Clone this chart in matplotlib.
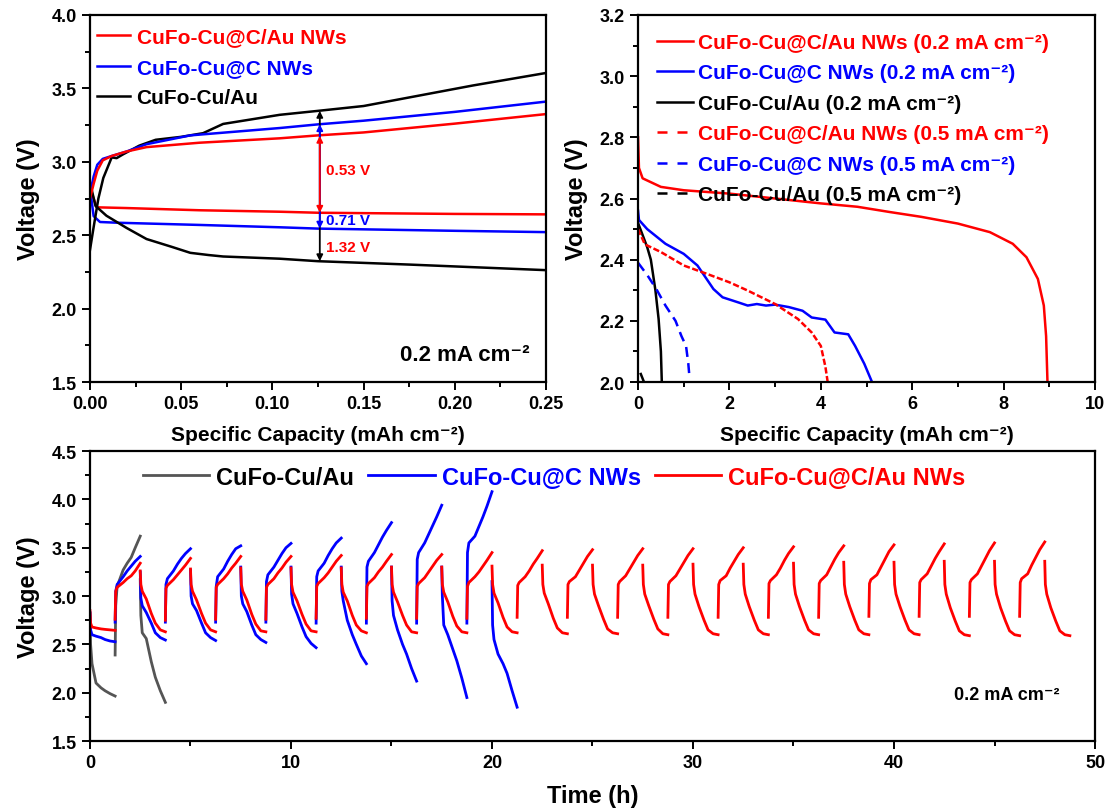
import matplotlib
matplotlib.use("Agg")
import matplotlib.pyplot as plt
from matplotlib.ticker import MultipleLocator, FormatStrFormatter
import numpy as np

plt.rcParams['font.family'] = ['Liberation Sans', 'DejaVu Sans']
plt.rcParams['font.weight'] = 'bold'
plt.rcParams['axes.labelweight'] = 'bold'

RED = '#ff0000'
BLUE = '#0000ff'
GREY = '#555555'
UNIT = 'mA cm\u207b\u00b2'

# ---------------- top left: first charge/discharge, 0.2 mA cm-2 ----------------
tl_red_chg_x = [0, 0.002, 0.004, 0.007, 0.012, 0.02, 0.031, 0.06, 0.104, 0.125, 0.15, 0.2, 0.25]
tl_red_chg_v = [2.75, 2.85, 2.94, 3.01, 3.04, 3.07, 3.10, 3.13, 3.16, 3.18, 3.20, 3.26, 3.325]
tl_blue_chg_x = [0, 0.002, 0.004, 0.007, 0.012, 0.02, 0.031, 0.055, 0.104, 0.125, 0.15, 0.2, 0.25]
tl_blue_chg_v = [2.78, 2.90, 2.98, 3.02, 3.04, 3.07, 3.12, 3.18, 3.23, 3.255, 3.28, 3.34, 3.41]
tl_blk_chg_x = [0, 0.0018, 0.0046, 0.0073, 0.0119, 0.0146, 0.018, 0.027, 0.036, 0.05, 0.062,
                0.073, 0.104, 0.125, 0.15, 0.18, 0.21, 0.25]
tl_blk_chg_v = [2.40, 2.54, 2.75, 2.89, 3.03, 3.025, 3.05, 3.11, 3.15, 3.17, 3.195,
                3.258, 3.32, 3.347, 3.38, 3.45, 3.52, 3.605]
tl_red_dis_x = [0, 0.002, 0.0037, 0.02, 0.06, 0.104, 0.125, 0.2, 0.25]
tl_red_dis_v = [2.82, 2.75, 2.69, 2.685, 2.67, 2.66, 2.653, 2.645, 2.642]
tl_blue_dis_x = [0, 0.002, 0.0055, 0.015, 0.06, 0.104, 0.125, 0.2, 0.25]
tl_blue_dis_v = [2.82, 2.63, 2.59, 2.585, 2.57, 2.554, 2.545, 2.53, 2.521]
tl_blk_dis_x = [0, 0.003, 0.009, 0.02, 0.031, 0.045, 0.055, 0.065, 0.073, 0.104, 0.125, 0.175, 0.25]
tl_blk_dis_v = [2.86, 2.70, 2.633, 2.55, 2.474, 2.42, 2.38, 2.365, 2.355, 2.34, 2.323, 2.30, 2.262]

tl_labels = ['CuFo-Cu@C/Au NWs', 'CuFo-Cu@C NWs', 'CuFo-Cu/Au']
gap_x = 0.126
gap_tops = [3.347, 3.256, 3.177]      # black, blue, red
gap_bots = [2.323, 2.545, 2.653]
gap_texts = ['0.53 V', '0.71 V', '1.32 V']
gap_text_y = [2.944, 2.605, 2.42]
gap_text_c = [RED, BLUE, RED]

# ---------------- top right: full discharge ----------------
tr_red02_x = [0, 0.02, 0.1, 0.5, 1.0, 2.0, 3.0, 4.0, 4.8, 5.5, 6.2, 7.0, 7.7, 8.2, 8.5, 8.75,
              8.88, 8.93, 8.96]
tr_red02_v = [2.80, 2.70, 2.666, 2.638, 2.627, 2.616, 2.60, 2.584, 2.573, 2.556, 2.54, 2.518,
              2.49, 2.452, 2.408, 2.337, 2.25, 2.15, 2.0]
tr_blue02_x = [0, 0.02, 0.2, 0.6, 1.0, 1.3, 1.45, 1.65, 1.85, 2.2, 2.4, 2.6, 2.8, 3.0, 3.3,
               3.6, 3.8, 4.1, 4.3, 4.6, 4.75, 4.95, 5.12]
tr_blue02_v = [2.56, 2.53, 2.50, 2.452, 2.419, 2.381, 2.348, 2.304, 2.277, 2.26, 2.25, 2.255,
               2.25, 2.253, 2.245, 2.233, 2.211, 2.204, 2.162, 2.156, 2.118, 2.06, 2.0]
tr_blk02_x = [0, 0.2, 0.28, 0.38, 0.45, 0.5, 0.52]
tr_blk02_v = [2.52, 2.441, 2.40, 2.30, 2.206, 2.10, 2.0]
tr_red05_x = [0, 0.15, 0.5, 1.0, 1.5, 2.0, 2.4, 3.0, 3.5, 3.8, 4.0, 4.1, 4.15]
tr_red05_v = [2.50, 2.45, 2.425, 2.381, 2.354, 2.326, 2.299, 2.255, 2.206, 2.162, 2.118, 2.05, 2.0]
tr_blue05_x = [0, 0.2, 0.4, 0.6, 0.82, 0.95, 1.05, 1.1, 1.12]
tr_blue05_v = [2.39, 2.35, 2.304, 2.25, 2.20, 2.15, 2.118, 2.06, 2.025]
tr_blk05_x = [0.05, 0.09, 0.13]
tr_blk05_v = [2.03, 2.015, 2.0]

tr_labels = ['CuFo-Cu@C/Au NWs (0.2 ' + UNIT + ')', 'CuFo-Cu@C NWs (0.2 ' + UNIT + ')',
             'CuFo-Cu/Au (0.2 ' + UNIT + ')', 'CuFo-Cu@C/Au NWs (0.5 ' + UNIT + ')',
             'CuFo-Cu@C NWs (0.5 ' + UNIT + ')', 'CuFo-Cu/Au (0.5 ' + UNIT + ')']

# ---------------- bottom: cycling ----------------
dis_dt = [0, 0.03, 0.1, 0.3, 0.55, 0.75, 1.0, 1.25]
chg_dt = [0, 0.03, 0.1, 0.4, 0.6, 0.8, 1.0, 1.25]

red_dis_t0 = [0, 2.5, 5, 7.5, 10, 12.5, 15, 17.5, 20, 22.5, 25, 27.5, 30, 32.5, 35, 37.5,
              40, 42.5, 45, 47.5]
red_dis_v = [
    [2.85, 2.72, 2.68, 2.67, 2.66, 2.655, 2.65, 2.645],
    [3.26, 3.12, 3.05, 2.97, 2.82, 2.72, 2.65, 2.63],
    [3.28, 3.12, 3.05, 2.96, 2.82, 2.72, 2.65, 2.63],
    [3.29, 3.12, 3.05, 2.96, 2.81, 2.71, 2.64, 2.63],
    [3.29, 3.12, 3.04, 2.95, 2.81, 2.71, 2.64, 2.63],
    [3.29, 3.12, 3.04, 2.95, 2.80, 2.70, 2.64, 2.62],
    [3.30, 3.12, 3.04, 2.94, 2.80, 2.70, 2.63, 2.62],
    [3.30, 3.12, 3.04, 2.94, 2.79, 2.69, 2.63, 2.62],
    [3.31, 3.12, 3.03, 2.93, 2.78, 2.68, 2.63, 2.62],
    [3.32, 3.12, 3.03, 2.92, 2.77, 2.67, 2.62, 2.61],
    [3.32, 3.12, 3.02, 2.90, 2.76, 2.66, 2.62, 2.61],
    [3.32, 3.12, 3.02, 2.90, 2.76, 2.66, 2.61, 2.60],
    [3.33, 3.12, 3.02, 2.89, 2.75, 2.65, 2.61, 2.60],
    [3.33, 3.12, 3.02, 2.89, 2.75, 2.65, 2.61, 2.60],
    [3.34, 3.12, 3.02, 2.89, 2.75, 2.65, 2.61, 2.60],
    [3.35, 3.12, 3.02, 2.89, 2.75, 2.65, 2.61, 2.60],
    [3.35, 3.12, 3.02, 2.89, 2.75, 2.65, 2.61, 2.60],
    [3.36, 3.12, 3.02, 2.88, 2.74, 2.64, 2.60, 2.59],
    [3.36, 3.12, 3.02, 2.88, 2.74, 2.64, 2.60, 2.59],
    [3.36, 3.12, 3.02, 2.88, 2.74, 2.64, 2.60, 2.59],
]
red_chg_t0 = [1.25, 3.75, 6.25, 8.75, 11.25, 13.75, 16.25, 18.75, 21.25, 23.75, 26.25, 28.75,
              31.25, 33.75, 36.25, 38.75, 41.25, 43.75, 46.25]
red_chg_v = [
    [2.76, 3.05, 3.09, 3.14, 3.18, 3.21, 3.26, 3.34],
    [2.75, 3.08, 3.11, 3.17, 3.22, 3.27, 3.32, 3.39],
    [2.76, 3.09, 3.12, 3.18, 3.23, 3.29, 3.34, 3.41],
    [2.76, 3.09, 3.12, 3.18, 3.24, 3.29, 3.35, 3.41],
    [2.77, 3.10, 3.13, 3.19, 3.24, 3.30, 3.36, 3.42],
    [2.77, 3.10, 3.13, 3.19, 3.25, 3.30, 3.36, 3.43],
    [2.77, 3.10, 3.13, 3.19, 3.25, 3.31, 3.37, 3.43],
    [2.77, 3.10, 3.14, 3.20, 3.25, 3.31, 3.37, 3.45],
    [2.78, 3.11, 3.14, 3.20, 3.26, 3.33, 3.39, 3.47],
    [2.78, 3.12, 3.15, 3.20, 3.27, 3.34, 3.41, 3.48],
    [2.78, 3.12, 3.15, 3.21, 3.28, 3.35, 3.42, 3.49],
    [2.78, 3.12, 3.15, 3.21, 3.28, 3.35, 3.42, 3.49],
    [2.78, 3.12, 3.16, 3.21, 3.29, 3.36, 3.43, 3.50],
    [2.78, 3.13, 3.16, 3.22, 3.29, 3.37, 3.44, 3.51],
    [2.78, 3.13, 3.16, 3.22, 3.30, 3.38, 3.45, 3.52],
    [2.79, 3.13, 3.17, 3.22, 3.30, 3.38, 3.46, 3.53],
    [2.79, 3.14, 3.17, 3.23, 3.31, 3.39, 3.46, 3.54],
    [2.79, 3.14, 3.17, 3.23, 3.31, 3.39, 3.47, 3.55],
    [2.79, 3.14, 3.18, 3.23, 3.32, 3.40, 3.48, 3.56],
]

blue_dis_t0 = [0, 2.5, 5, 7.5, 10, 12.5, 15, 17.5, 20]
blue_dis_v = [
    [2.83, 2.65, 2.60, 2.585, 2.57, 2.55, 2.535, 2.527],
    [3.25, 2.98, 2.90, 2.83, 2.72, 2.62, 2.57, 2.545],
    [3.27, 3.00, 2.92, 2.85, 2.72, 2.62, 2.57, 2.54],
    [3.30, 3.00, 2.92, 2.84, 2.70, 2.60, 2.55, 2.52],
    [3.30, 3.02, 2.92, 2.82, 2.68, 2.58, 2.51, 2.466],
    [3.30, 3.05, 2.95, 2.75, 2.60, 2.50, 2.38, 2.30],
    [3.30, 2.95, 2.80, 2.65, 2.50, 2.40, 2.25, 2.12],
    [3.30, 3.00, 2.70, 2.60, 2.45, 2.33, 2.15, 1.95],
    [3.15, 2.70, 2.55, 2.40, 2.30, 2.20, 2.02, 1.85],
]
blue_chg_t0 = [1.25, 3.75, 6.25, 8.75, 11.25, 13.75, 16.25, 18.75]
blue_chg_v = [
    [2.73, 3.05, 3.12, 3.20, 3.26, 3.31, 3.36, 3.41],
    [2.73, 3.12, 3.18, 3.26, 3.33, 3.39, 3.44, 3.49],
    [2.73, 3.10, 3.20, 3.28, 3.36, 3.43, 3.49, 3.52],
    [2.73, 3.15, 3.22, 3.30, 3.37, 3.44, 3.50, 3.545],
    [2.72, 3.20, 3.26, 3.34, 3.42, 3.49, 3.55, 3.60],
    [2.72, 3.30, 3.36, 3.45, 3.53, 3.61, 3.68, 3.76],
    [2.72, 3.38, 3.45, 3.55, 3.64, 3.73, 3.82, 3.94],
    [2.72, 3.45, 3.55, 3.62, 3.72, 3.82, 3.93, 4.08],
]

grey_dis_t0 = [0, 2.5]
grey_dis_v = [
    [2.82, 2.50, 2.30, 2.10, 2.05, 2.02, 1.99, 1.965],
    [3.17, 2.80, 2.62, 2.56, 2.32, 2.16, 2.02, 1.90],
]
grey_chg_t0 = [1.25]
grey_chg_v = [
    [2.39, 2.90, 3.10, 3.27, 3.34, 3.40, 3.50, 3.62],
]

bottom_labels = ['CuFo-Cu/Au', 'CuFo-Cu@C NWs', 'CuFo-Cu@C/Au NWs']


def segments(t0_dis, v_dis, t0_chg, v_chg):
    # join discharge and charge pieces in time order, NaN between them
    pieces = [(t0, dis_dt, v) for t0, v in zip(t0_dis, v_dis)]
    pieces += [(t0, chg_dt, v) for t0, v in zip(t0_chg, v_chg)]
    pieces.sort(key=lambda p: p[0])
    xs, ys = [], []
    for t0, dt, v in pieces:
        xs += [t0 + d for d in dt] + [np.nan]
        ys += list(v) + [np.nan]
    return xs, ys


def style(ax, xmaj, xmin, ymaj, ymin):
    for s in ax.spines.values():
        s.set_linewidth(1.6)
    ax.xaxis.set_major_locator(MultipleLocator(xmaj))
    ax.xaxis.set_minor_locator(MultipleLocator(xmin))
    ax.yaxis.set_major_locator(MultipleLocator(ymaj))
    ax.yaxis.set_minor_locator(MultipleLocator(ymin))
    ax.tick_params(which='both', direction='out', top=False, right=False, width=1.4,
                   labelsize=13)
    ax.tick_params(which='major', length=6)
    ax.tick_params(which='minor', length=3.5)


fig = plt.figure(figsize=(11.11, 8.12), dpi=100)

# ---- top left
ax1 = fig.add_axes([0.081, 0.5283, 0.4104, 0.452])
lw = 1.8
ax1.plot(tl_red_dis_x, tl_red_dis_v, color=RED, lw=lw)
ax1.plot(tl_blue_dis_x, tl_blue_dis_v, color=BLUE, lw=lw)
ax1.plot(tl_blk_dis_x, tl_blk_dis_v, color='black', lw=lw)
h_blk, = ax1.plot(tl_blk_chg_x, tl_blk_chg_v, color='black', lw=lw)
h_blue, = ax1.plot(tl_blue_chg_x, tl_blue_chg_v, color=BLUE, lw=lw)
h_red, = ax1.plot(tl_red_chg_x, tl_red_chg_v, color=RED, lw=lw)
for top, bot, c in zip(gap_tops, gap_bots, ['black', BLUE, RED]):
    ax1.annotate('', xy=(gap_x, top), xytext=(gap_x, bot),
                 arrowprops=dict(arrowstyle='<|-|>', color=c, lw=1.3,
                                 mutation_scale=9, shrinkA=0, shrinkB=0))
for txt, y, c in zip(gap_texts, gap_text_y, gap_text_c):
    ax1.text(0.1292, y, txt, color=c, fontsize=11, va='center', ha='left')
ax1.text(0.965, 0.075, '0.2 ' + UNIT, transform=ax1.transAxes, fontsize=16,
         ha='right', va='center')
ax1.set_xlim(0, 0.25)
ax1.set_ylim(1.5, 4.0)
style(ax1, 0.05, 0.025, 0.5, 0.25)
ax1.xaxis.set_major_formatter(FormatStrFormatter('%.2f'))
ax1.yaxis.set_major_formatter(FormatStrFormatter('%.1f'))
ax1.set_xlabel('Specific Capacity (mAh cm\u207b\u00b2)', fontsize=15, labelpad=9)
ax1.set_ylabel('Voltage (V)', fontsize=17, labelpad=8)
ax1.legend([h_red, h_blue, h_blk], tl_labels, loc='upper left',
           bbox_to_anchor=(-0.012, 1.0), frameon=False, fontsize=15, handlelength=1.6,
           handletextpad=0.3, labelspacing=0.55, borderaxespad=0.2,
           labelcolor=[RED, BLUE, 'black'])

# ---- top right
ax2 = fig.add_axes([0.5743, 0.5283, 0.4113, 0.452])
hr2, = ax2.plot(tr_red02_x, tr_red02_v, color=RED, lw=lw)
hb2, = ax2.plot(tr_blue02_x, tr_blue02_v, color=BLUE, lw=lw)
hk2, = ax2.plot(tr_blk02_x, tr_blk02_v, color='black', lw=lw)
hr5, = ax2.plot(tr_red05_x, tr_red05_v, color=RED, lw=lw, ls=(0, (2.5, 1)))
hb5, = ax2.plot(tr_blue05_x, tr_blue05_v, color=BLUE, lw=lw, ls=(0, (4, 2.5)))
hk5, = ax2.plot(tr_blk05_x, tr_blk05_v, color='black', lw=lw, ls=(0, (4, 2.5)))
ax2.set_xlim(0, 10)
ax2.set_ylim(2.0, 3.2)
style(ax2, 2, 1, 0.2, 0.1)
ax2.yaxis.set_major_formatter(FormatStrFormatter('%.1f'))
ax2.set_xlabel('Specific Capacity (mAh cm\u207b\u00b2)', fontsize=15, labelpad=9)
ax2.set_ylabel('Voltage (V)', fontsize=17, labelpad=8)
leg_handles = [hr2, hb2, hk2,
               plt.Line2D([], [], color=RED, lw=lw, ls=(0, (4, 4))),
               plt.Line2D([], [], color=BLUE, lw=lw, ls=(0, (4, 4))),
               plt.Line2D([], [], color='black', lw=lw, ls=(0, (4, 4)))]
ax2.legend(leg_handles, tr_labels, loc='upper left', bbox_to_anchor=(0.015, 0.985),
           frameon=False, fontsize=15, handlelength=1.7, handletextpad=0.25,
           labelspacing=0.55, borderaxespad=0.2,
           labelcolor=[RED, BLUE, 'black', RED, BLUE, 'black'])

# ---- bottom
ax3 = fig.add_axes([0.081, 0.0862, 0.9046, 0.357])
gx, gy = segments(grey_dis_t0, grey_dis_v, grey_chg_t0, grey_chg_v)
bx, by = segments(blue_dis_t0, blue_dis_v, blue_chg_t0, blue_chg_v)
rx, ry = segments(red_dis_t0, red_dis_v, red_chg_t0, red_chg_v)
hg, = ax3.plot(gx, gy, color=GREY, lw=2)
hb, = ax3.plot(bx, by, color=BLUE, lw=2)
hr, = ax3.plot(rx, ry, color=RED, lw=2)
ax3.set_xlim(0, 50)
ax3.set_ylim(1.5, 4.5)
style(ax3, 10, 5, 0.5, 0.25)
ax3.yaxis.set_major_formatter(FormatStrFormatter('%.1f'))
ax3.set_xlabel('Time (h)', fontsize=17, labelpad=9)
ax3.set_ylabel('Voltage (V)', fontsize=17, labelpad=8)
ax3.text(0.965, 0.16, '0.2 ' + UNIT, transform=ax3.transAxes, fontsize=13,
         ha='right', va='center')
ax3.legend([hg, hb, hr], bottom_labels, loc='center', bbox_to_anchor=(0.462, 0.91),
           ncol=3, frameon=False, fontsize=17, handlelength=2.8, handletextpad=0.3,
           columnspacing=0.6, labelcolor=['black', BLUE, RED])

fig.savefig('out.png', dpi=100)
